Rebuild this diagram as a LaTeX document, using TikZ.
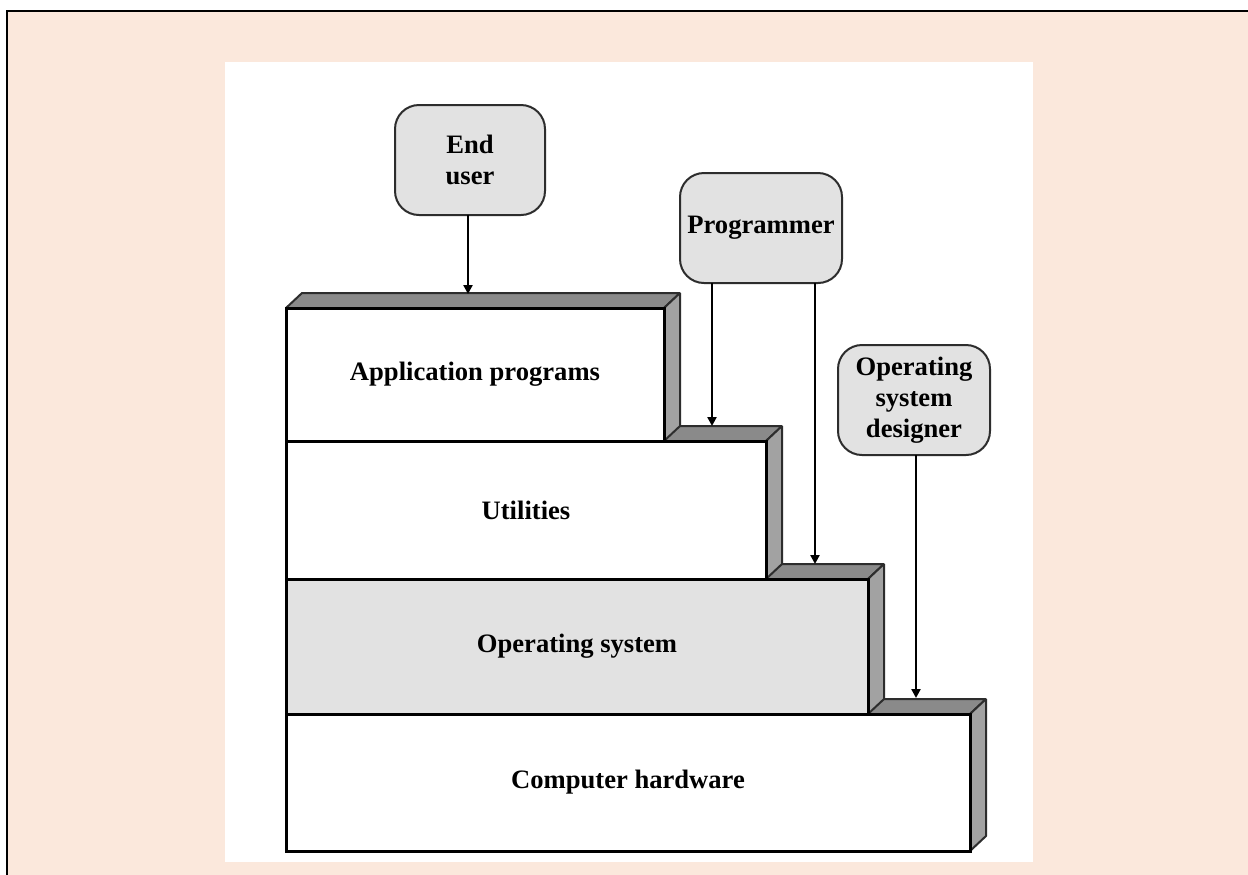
\documentclass[tikz,border=0pt]{standalone}
\usepackage{fontspec}
\setmainfont{Liberation Serif}
\usepackage{tikz}
\usetikzlibrary{arrows.meta}
\usetikzlibrary{backgrounds}
\definecolor{pagepeach}{RGB}{251,232,220}
\definecolor{panelgray}{RGB}{226,226,226}
\definecolor{facetop}{RGB}{138,138,138}
\definecolor{faceside}{RGB}{162,162,162}
\definecolor{faceedge}{RGB}{45,45,45}
\tikzset{
  camada/.style={draw, line width=1.5pt, fill=white, anchor=north west, outer sep=0pt,
    font=\bfseries\fontsize{13.3}{16}\selectfont},
  utilizador/.style={draw=faceedge, line width=1pt, rounded corners=12pt, fill=panelgray,
    align=center, outer sep=0pt, minimum height=55pt,
    font=\bfseries\fontsize{13.3}{15.5}\selectfont},
  topo/.style={fill=facetop, draw=faceedge, line width=1pt, line join=bevel},
  lado/.style={fill=faceside, draw=faceedge, line width=1pt, line join=bevel},
  seta/.style={-{Triangle[length=4.5pt,width=4.5pt]}, line width=1.2pt},
}

\begin{document}
\begin{tikzpicture}[x=0.5pt, y=-0.5pt]
  \useasboundingbox (0,0) rectangle (1248,874);
  \begin{pgfonlayer}{background}
    \fill[pagepeach] (7,11) rectangle (1250,876);
    \draw[line width=0.8pt] (7,876) -- (7,11) -- (1250,11);
    \fill[white] (225,62) rectangle (1033,862);
  \end{pgfonlayer}

  % layers, front faces
  \node[camada, minimum width=189pt, minimum height=66.5pt] (apps) at (286,308) {Application programs};
  \node[camada, minimum width=240pt, minimum height=69pt] (util) at (286,441) {Utilities};
  \node[camada, fill=panelgray, minimum width=291pt, minimum height=67.5pt] (os) at (286,579) {Operating system};
  \node[camada, minimum width=342pt, minimum height=68.5pt] (hw) at (286,714) {Computer hardware};

  % top and side of every layer, behind the fronts
  \begin{pgfonlayer}{background}
    \foreach \l in {hw,os,util,apps} {
      \filldraw[topo] (\l.north west) -- ++(16,-15) -- ([shift={(16,-15)}]\l.north east) -- (\l.north east) -- cycle;
      \filldraw[lado] (\l.north east) -- ++(16,-15) -- ([shift={(16,-15)}]\l.south east) -- (\l.south east) -- cycle;
    }
  \end{pgfonlayer}

  % users
  \node[utilizador, minimum width=75pt] (eu) at (470,160) {End\\user};
  \node[utilizador, minimum width=81pt] (prog) at (761,228) {Programmer};
  \node[utilizador, minimum width=76pt] (osd) at (914,400) {Operating\\system\\designer};

  \coordinate (appsIn) at (468,294);
  \coordinate (utilIn) at (712,426);
  \coordinate (osIn) at (815,564);
  \coordinate (hwIn) at (916,698);

  \draw[seta] (eu.south -| appsIn) -- (appsIn);
  \draw[seta] (prog.south -| utilIn) -- (utilIn);
  \draw[seta] (prog.south -| osIn) -- (osIn);
  \draw[seta] (osd.south -| hwIn) -- (hwIn);
\end{tikzpicture}
\end{document}
